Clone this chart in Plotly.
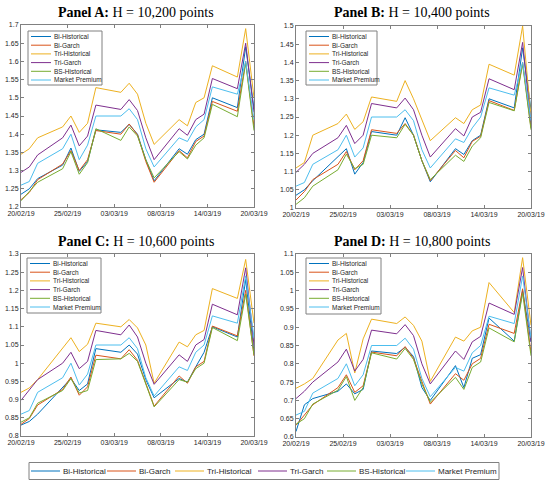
import plotly.graph_objects as go

# trading days, counted in calendar days from 20/02/19
days = [0, 1, 2, 5, 6, 7, 8, 9, 12, 13, 14, 15, 16, 19, 20, 21, 22, 23, 26, 27, 28]
tick_labels = ["20/02/19", "25/02/19", "03/03/19", "08/03/19", "14/03/19", "20/03/19"]

series_names = ["Bi-Historical", "Bi-Garch", "Tri-Historical", "Tri-Garch", "BS-Historical", "Market Premium"]
colors = ["#0072BD", "#D95319", "#EDB120", "#7E2F8E", "#77AC30", "#4DBEEE"]

# Panel A: H = 10,200
a_bi_hist = [1.235, 1.25, 1.278, 1.315, 1.362, 1.298, 1.325, 1.412, 1.405, 1.427, 1.40, 1.33, 1.272, 1.36, 1.345, 1.385, 1.40, 1.50, 1.473, 1.64, 1.47]
a_bi_garch = [1.22, 1.24, 1.275, 1.318, 1.355, 1.30, 1.33, 1.41, 1.40, 1.428, 1.398, 1.325, 1.268, 1.355, 1.335, 1.38, 1.395, 1.49, 1.463, 1.60, 1.42]
a_tri_hist = [1.345, 1.36, 1.39, 1.42, 1.45, 1.405, 1.43, 1.528, 1.515, 1.54, 1.51, 1.43, 1.372, 1.44, 1.423, 1.487, 1.50, 1.588, 1.557, 1.69, 1.50]
a_tri_garch = [1.295, 1.31, 1.343, 1.39, 1.425, 1.368, 1.395, 1.48, 1.468, 1.495, 1.465, 1.39, 1.33, 1.415, 1.397, 1.44, 1.455, 1.553, 1.525, 1.65, 1.46]
a_bs_hist = [1.217, 1.243, 1.268, 1.305, 1.352, 1.29, 1.322, 1.415, 1.383, 1.42, 1.395, 1.33, 1.28, 1.352, 1.332, 1.37, 1.39, 1.482, 1.448, 1.596, 1.41]
a_market = [1.26, 1.27, 1.32, 1.36, 1.40, 1.33, 1.37, 1.45, 1.45, 1.47, 1.44, 1.36, 1.31, 1.39, 1.38, 1.42, 1.44, 1.53, 1.51, 1.60, 1.44]

# Panel B: H = 10,400
b_bi_hist = [1.035, 1.05, 1.075, 1.14, 1.163, 1.093, 1.125, 1.21, 1.20, 1.248, 1.20, 1.13, 1.072, 1.163, 1.147, 1.185, 1.20, 1.30, 1.275, 1.44, 1.27]
b_bi_garch = [1.022, 1.045, 1.078, 1.12, 1.155, 1.105, 1.13, 1.215, 1.205, 1.232, 1.20, 1.13, 1.075, 1.158, 1.138, 1.183, 1.197, 1.295, 1.268, 1.40, 1.22]
b_tri_hist = [1.11, 1.125, 1.20, 1.232, 1.258, 1.216, 1.237, 1.305, 1.293, 1.35, 1.30, 1.24, 1.185, 1.248, 1.232, 1.27, 1.283, 1.395, 1.365, 1.50, 1.25]
b_tri_garch = [1.098, 1.12, 1.15, 1.193, 1.227, 1.177, 1.20, 1.287, 1.275, 1.302, 1.27, 1.20, 1.14, 1.218, 1.198, 1.25, 1.263, 1.355, 1.325, 1.455, 1.23]
b_bs_hist = [1.01, 1.028, 1.06, 1.105, 1.148, 1.108, 1.12, 1.20, 1.193, 1.23, 1.20, 1.13, 1.078, 1.145, 1.128, 1.17, 1.193, 1.29, 1.267, 1.395, 1.215]
b_market = [1.06, 1.07, 1.12, 1.16, 1.20, 1.14, 1.165, 1.25, 1.25, 1.27, 1.24, 1.16, 1.11, 1.19, 1.18, 1.22, 1.25, 1.33, 1.31, 1.40, 1.24]

# Panel C: H = 10,600
c_bi_hist = [0.83, 0.84, 0.86, 0.932, 0.958, 0.925, 0.943, 1.04, 1.03, 1.05, 1.025, 0.955, 0.905, 0.958, 0.948, 0.99, 1.03, 1.10, 1.072, 1.23, 1.03]
c_bi_garch = [0.832, 0.848, 0.885, 0.928, 0.962, 0.912, 0.935, 1.022, 1.012, 1.037, 1.008, 0.945, 0.882, 0.965, 0.945, 0.99, 1.005, 1.102, 1.075, 1.20, 1.02]
c_tri_hist = [0.92, 0.932, 0.955, 1.04, 1.07, 1.032, 1.052, 1.11, 1.10, 1.12, 1.097, 1.05, 0.945, 1.058, 1.045, 1.078, 1.09, 1.205, 1.178, 1.285, 1.11]
c_tri_garch = [0.898, 0.925, 0.955, 1.0, 1.03, 0.985, 1.005, 1.09, 1.078, 1.105, 1.072, 1.0, 0.942, 1.023, 1.005, 1.05, 1.065, 1.162, 1.133, 1.262, 1.05]
c_bs_hist = [0.838, 0.85, 0.89, 0.925, 0.958, 0.918, 0.925, 1.01, 1.012, 1.027, 1.005, 0.94, 0.88, 0.955, 0.948, 0.985, 1.0, 1.098, 1.062, 1.19, 1.022]
c_market = [0.86, 0.87, 0.92, 0.96, 1.0, 0.94, 0.97, 1.05, 1.05, 1.07, 1.04, 0.96, 0.91, 0.99, 0.98, 1.03, 1.05, 1.13, 1.11, 1.24, 1.07]

# Panel D: H = 10,800
d_bi_hist = [0.615, 0.688, 0.705, 0.725, 0.745, 0.718, 0.73, 0.835, 0.828, 0.845, 0.82, 0.735, 0.70, 0.795, 0.735, 0.815, 0.825, 0.925, 0.862, 1.0, 0.86]
d_bi_garch = [0.632, 0.66, 0.688, 0.735, 0.77, 0.722, 0.74, 0.832, 0.822, 0.847, 0.815, 0.752, 0.69, 0.773, 0.755, 0.80, 0.815, 0.908, 0.883, 1.005, 0.83]
d_tri_hist = [0.733, 0.745, 0.76, 0.865, 0.883, 0.775, 0.868, 0.922, 0.91, 0.928, 0.905, 0.862, 0.752, 0.873, 0.862, 0.89, 0.90, 1.022, 0.94, 1.09, 0.905]
d_tri_garch = [0.705, 0.725, 0.75, 0.805, 0.84, 0.78, 0.812, 0.892, 0.882, 0.907, 0.877, 0.80, 0.745, 0.835, 0.812, 0.86, 0.875, 0.966, 0.935, 1.063, 0.86]
d_bs_hist = [0.635, 0.65, 0.69, 0.728, 0.765, 0.70, 0.735, 0.83, 0.813, 0.842, 0.812, 0.745, 0.695, 0.763, 0.73, 0.79, 0.805, 0.898, 0.86, 0.993, 0.822]
d_market = [0.66, 0.67, 0.72, 0.76, 0.80, 0.74, 0.77, 0.85, 0.85, 0.87, 0.84, 0.76, 0.71, 0.79, 0.78, 0.83, 0.85, 0.93, 0.91, 1.04, 0.87]

panels = [
    ("A", "10,200", [a_bi_hist, a_bi_garch, a_tri_hist, a_tri_garch, a_bs_hist, a_market], [1.2, 1.7]),
    ("B", "10,400", [b_bi_hist, b_bi_garch, b_tri_hist, b_tri_garch, b_bs_hist, b_market], [1.0, 1.5]),
    ("C", "10,600", [c_bi_hist, c_bi_garch, c_tri_hist, c_tri_garch, c_bs_hist, c_market], [0.8, 1.3]),
    ("D", "10,800", [d_bi_hist, d_bi_garch, d_tri_hist, d_tri_garch, d_bs_hist, d_market], [0.6, 1.1]),
]

W, H = 550, 483
# plot boxes in pixels (left, right, top, bottom)
boxes = [(21, 254, 25, 207), (296, 531, 26, 208), (21, 254, 254, 436), (296, 531, 254, 437)]
title_y = [13, 13, 241, 241]
# inset legend boxes: offset from plot corner and size, pixels
inset = [(7, 6, 74, 54), (10, 5, 71, 54), (6, 4, 74, 55), (10, 4, 75, 56)]
# bottom legend: key line start for each entry
bottom_x = [31, 107, 175, 258, 327, 406]

GREY = "#808080"
TXT = "#262626"
ax_font = dict(family="Liberation Sans, Arial", size=7, color=TXT)
tickvals = [28 * i / 5 for i in range(6)]


def px(x):
    return x / W


def py(y):
    return 1 - y / H


fig = go.Figure()
layout = dict(
    width=W, height=H, autosize=False, margin=dict(l=0, r=0, t=0, b=0, pad=0, autoexpand=False),
    plot_bgcolor="white", paper_bgcolor="white", showlegend=False,
    annotations=[], shapes=[],
)


def key(x0, x1, y, col, label, size):
    layout["shapes"].append(dict(type="line", xref="paper", yref="paper",
                                 x0=px(x0), x1=px(x1), y0=py(y), y1=py(y),
                                 line=dict(color=col, width=1)))
    layout["annotations"].append(dict(text=label, x=px(x1 + 2), y=py(y), xref="paper", yref="paper",
                                      xanchor="left", yanchor="middle", showarrow=False, borderpad=0,
                                      font=dict(family="Liberation Sans, Arial", size=size, color=TXT)))


for i, (letter, hval, vals, yr) in enumerate(panels):
    n = i + 1
    sfx = "" if n == 1 else str(n)
    l, r, t, b = boxes[i]
    for name, col, ys in zip(series_names, colors, vals):
        fig.add_trace(go.Scatter(
            x=days, y=ys, mode="lines", name=name, line=dict(color=col, width=1),
            xaxis="x" + sfx, yaxis="y" + sfx,
        ))
    common = dict(showline=True, linecolor=GREY, linewidth=1, mirror="ticks",
                  ticks="inside", ticklen=3, tickcolor=GREY, tickwidth=1,
                  showgrid=False, zeroline=False, tickfont=ax_font, automargin=False)
    layout["xaxis" + sfx] = dict(common, domain=[px(l), px(r)], range=[0, 28],
                                 tickvals=tickvals, ticktext=tick_labels,
                                 anchor="y" + sfx)
    layout["yaxis" + sfx] = dict(common, domain=[py(b), py(t)], range=yr,
                                 dtick=0.05, tick0=0, anchor="x" + sfx)
    layout["annotations"].append(dict(
        text="<b>Panel %s:</b> H = %s points" % (letter, hval),
        x=px((l + r) / 2 - 2), y=py(title_y[i]), xref="paper", yref="paper",
        xanchor="center", yanchor="middle", showarrow=False,
        font=dict(family="Liberation Serif, Times New Roman", size=14, color="black"),
    ))
    # inset legend
    ox, oy, bw, bh = inset[i]
    lx, ly = l + ox, t + oy
    layout["shapes"].append(dict(type="rect", xref="paper", yref="paper",
                                 x0=px(lx), x1=px(lx + bw), y0=py(ly), y1=py(ly + bh),
                                 line=dict(color=GREY, width=1), fillcolor="white", layer="above"))
    for k, (name, col) in enumerate(zip(series_names, colors)):
        key(lx + 3, lx + 23, ly + 5.5 + 8.7 * k, col, name, 6.5)

# shared legend at the bottom
layout["shapes"].append(dict(type="rect", xref="paper", yref="paper",
                             x0=px(29), x1=px(499), y0=py(462.5), y1=py(479.5),
                             line=dict(color=GREY, width=1), fillcolor="white"))
for x0, name, col in zip(bottom_x, series_names, colors):
    key(x0, x0 + 29, 471, col, name, 8)

fig.update_layout(**layout)
# drop the page's default body margin so the figure sits at the window corner
fig.write_html("out.html", config={"displayModeBar": False},
               post_script="document.body.style.margin='0';document.body.style.overflow='hidden';")
